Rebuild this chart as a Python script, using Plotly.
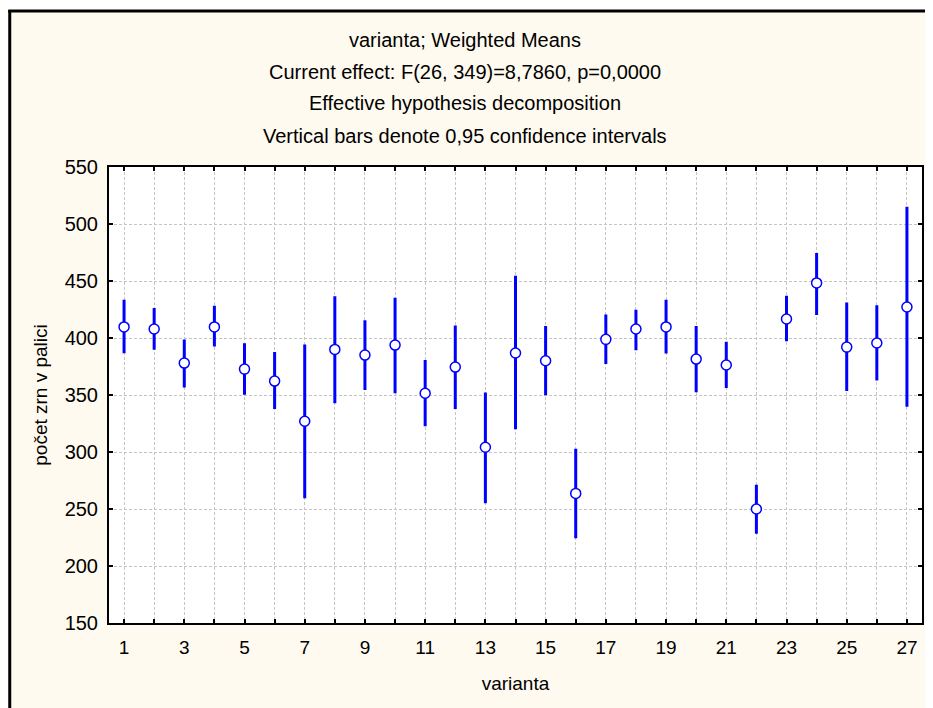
import plotly.graph_objects as go

varianta = list(range(1, 28))
means = [409.7, 407.9, 378.0, 409.7, 372.7, 362.2, 327.0, 390.0, 385.0, 393.8,
         351.5, 374.5, 304.2, 386.8, 380.0, 263.7, 398.8, 407.9, 409.7, 381.5,
         376.3, 250.0, 416.7, 448.3, 392.0, 395.6, 427.2]
upper = [432.2, 424.9, 397.4, 426.9, 394.0, 386.5, 393.0, 435.2, 414.3, 434.0,
         379.4, 409.7, 350.8, 453.3, 409.3, 301.5, 419.3, 423.4, 432.2, 409.3,
         395.3, 269.9, 435.7, 473.2, 429.9, 427.5, 513.9]
lower = [388.0, 390.9, 357.8, 393.8, 351.6, 339.0, 260.8, 344.0, 355.7, 352.8,
         323.8, 339.0, 256.4, 321.2, 351.0, 225.6, 378.6, 390.6, 387.7, 353.7,
         357.5, 229.7, 398.5, 421.6, 354.8, 364.0, 341.1]
x_tick_vals = list(range(1, 28))
x_tick_text = [str(v) if v % 2 == 1 else "" for v in x_tick_vals]
y_tick_vals = [150, 200, 250, 300, 350, 400, 450, 500, 550]
title_lines = ["varianta; Weighted Means",
               "Current effect: F(26, 349)=8,7860, p=0,0000",
               "Effective hypothesis decomposition",
               "Vertical bars denote 0,95 confidence intervals"]

# the page adds an 8px white margin; the figure sits at (8, 8)
OFF = 8
W, H = 933 - OFF, 708 - OFF
ML, MR, MT, MB = 109 - OFF, 9, 167 - OFF, 85
PW = W - ML - MR
PH = H - MT - MB


def px(xp):
    return (xp - OFF - ML) / PW


def py(yp):
    return (H - MB - (yp - OFF)) / PH


BLUE = "#0000FF"
CREAM = "#FFFAEF"
FONT = "Liberation Sans, Arial, sans-serif"

fig = go.Figure()
fig.add_trace(go.Scatter(
    x=varianta, y=means, mode="markers",
    marker=dict(symbol="circle", size=10, color="white",
                line=dict(color=BLUE, width=1.5)),
    error_y=dict(type="data", symmetric=False,
                 array=[u - m for u, m in zip(upper, means)],
                 arrayminus=[m - l for m, l in zip(means, lower)],
                 color=BLUE, thickness=3, width=1.5),
    showlegend=False,
))

shapes = [
    dict(type="rect", xref="paper", yref="paper", x0=px(0), x1=px(933), y0=py(0), y1=py(10),
         fillcolor="white", line=dict(width=0), layer="below"),
    dict(type="rect", xref="paper", yref="paper", x0=px(0), x1=px(8), y0=py(0), y1=py(708),
         fillcolor="white", line=dict(width=0), layer="below"),
    dict(type="line", xref="paper", yref="paper", x0=px(8), x1=px(933), y0=py(11), y1=py(11),
         line=dict(color="black", width=3)),
    dict(type="line", xref="paper", yref="paper", x0=px(9.5), x1=px(9.5), y0=py(10), y1=py(708),
         line=dict(color="black", width=3)),
]

annotations = []
for txt, yy in zip(title_lines, [40, 72, 103, 136]):
    annotations.append(dict(text=txt, xref="paper", yref="paper", x=px(466), y=py(yy),
                            xanchor="center", yanchor="middle", showarrow=False,
                            font=dict(family=FONT, size=20, color="black")))

axis_common = dict(showline=True, linecolor="black", linewidth=2, mirror="ticks",
                   ticks="inside", ticklen=4, tickwidth=1.5, tickcolor="black",
                   showgrid=True, gridcolor="#C4C4C4", gridwidth=1, griddash="3px,2px",
                   zeroline=False)

fig.update_layout(
    width=W, height=H,
    margin=dict(l=ML, r=MR, t=MT, b=MB),
    paper_bgcolor=CREAM, plot_bgcolor="white",
    shapes=shapes, annotations=annotations,
    xaxis=dict(range=[0.5, 27.5], tickvals=x_tick_vals, ticktext=x_tick_text,
               tickfont=dict(family=FONT, size=19, color="black"), ticklabelstandoff=6,
               title=dict(text="varianta", font=dict(family=FONT, size=19, color="black"),
                          standoff=20),
               **axis_common),
    yaxis=dict(range=[150, 550], tickvals=y_tick_vals,
               tickfont=dict(family=FONT, size=20, color="black"), ticklabelstandoff=5,
               title=dict(text="počet zrn v palici", font=dict(family=FONT, size=19, color="black"),
                          standoff=12),
               **axis_common),
)

fig.write_html("out.html")
